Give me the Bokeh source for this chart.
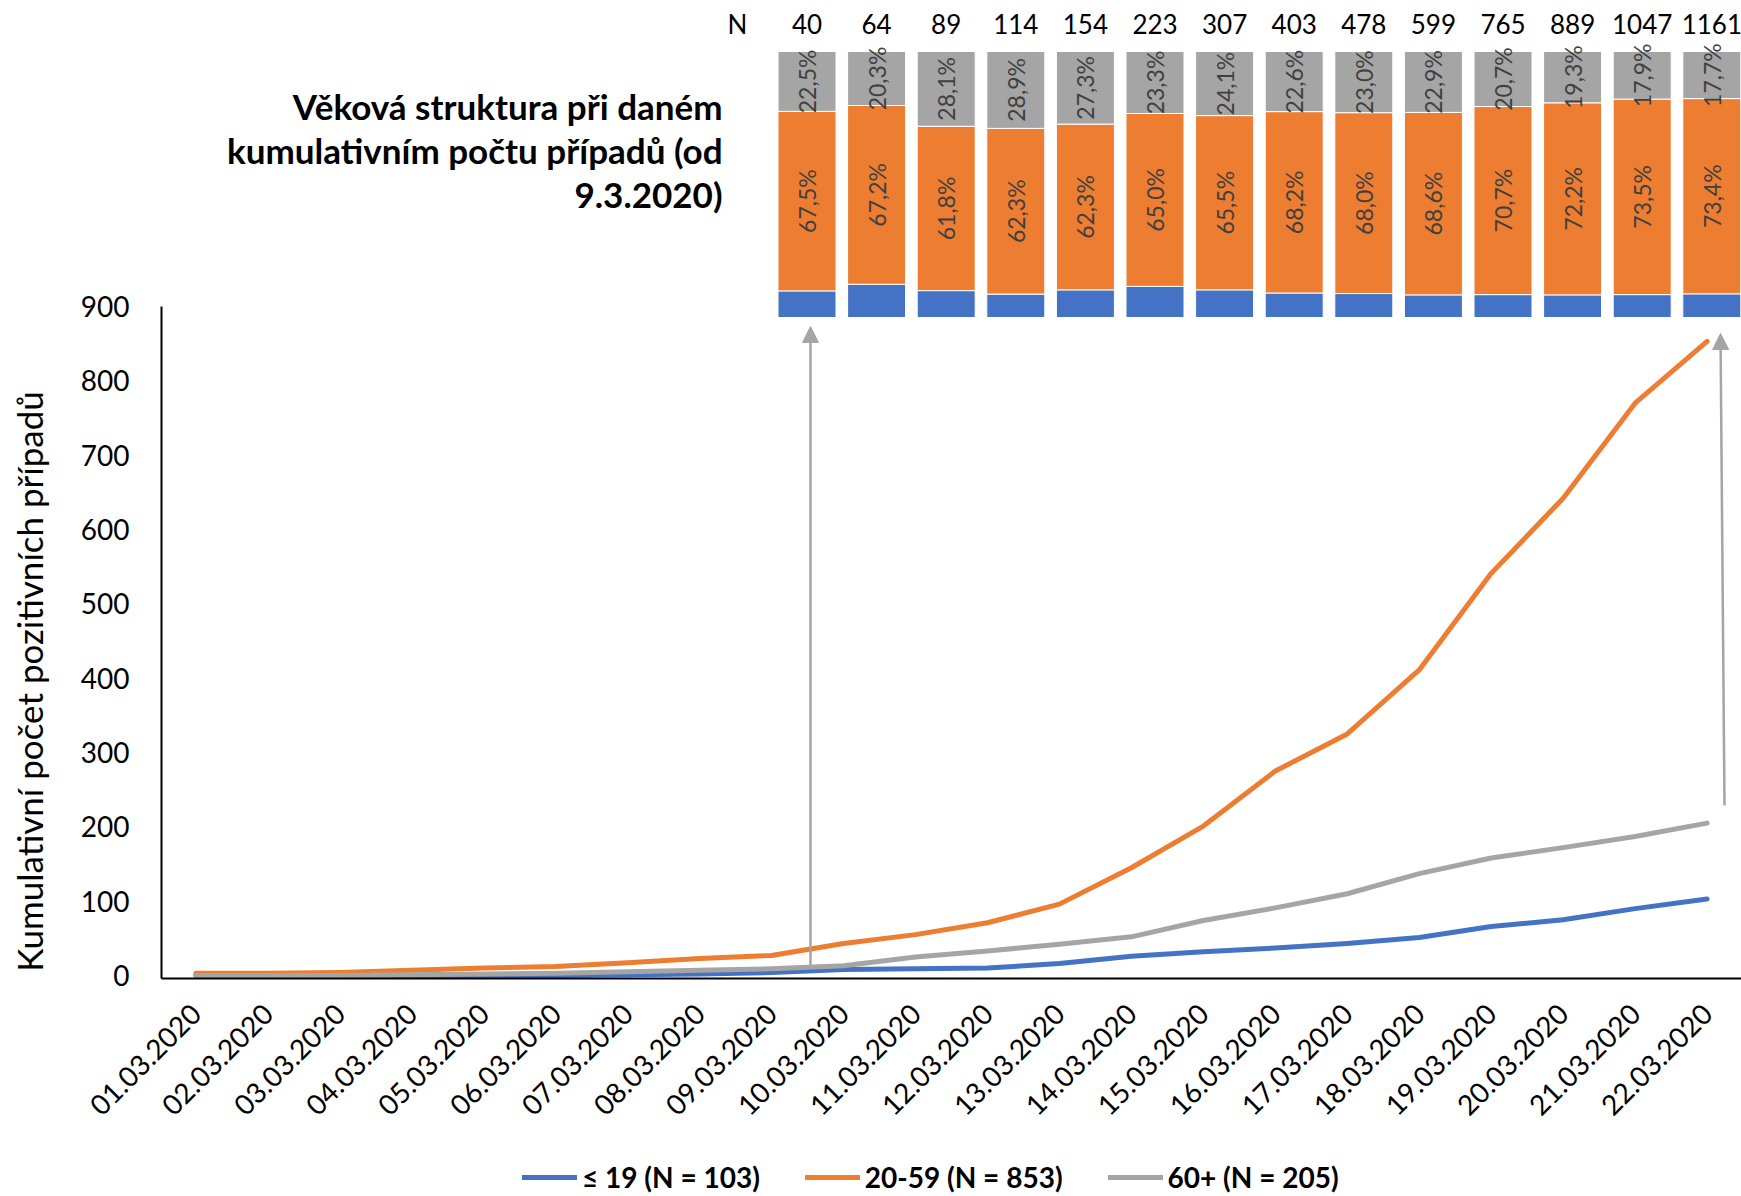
from math import pi
from bokeh.plotting import figure
from bokeh.layouts import column, row
from bokeh.models import (Range1d, FixedTicker, ColumnDataSource, Legend, LegendItem,
                          Label, Arrow, NormalHead)
from bokeh.core.properties import value
from bokeh.embed import file_html
from bokeh.resources import INLINE

# ---------------- data ----------------
dates = ["01.03.2020", "02.03.2020", "03.03.2020", "04.03.2020", "05.03.2020",
         "06.03.2020", "07.03.2020", "08.03.2020", "09.03.2020", "10.03.2020",
         "11.03.2020", "12.03.2020", "13.03.2020", "14.03.2020", "15.03.2020",
         "16.03.2020", "17.03.2020", "18.03.2020", "19.03.2020", "20.03.2020",
         "21.03.2020", "22.03.2020"]
cum_le19 = [0, 0, 0, 0, 0, 0, 1, 2, 4, 8, 9, 10, 16, 26, 32, 37, 43, 51, 66, 75, 90, 103]
cum_20_59 = [3, 3, 4, 7, 10, 12, 17, 23, 27, 43, 55, 71, 96, 145, 201, 275, 325, 411, 541, 642, 770, 853]
cum_60p = [0, 0, 0, 1, 2, 3, 5, 7, 9, 13, 25, 33, 42, 52, 74, 91, 110, 137, 158, 172, 187, 205]

bar_n = [40, 64, 89, 114, 154, 223, 307, 403, 478, 599, 765, 889, 1047, 1161]
bar_pct_le19 = [10.0, 12.5, 10.1, 8.8, 10.4, 11.7, 10.4, 9.2, 9.0, 8.5, 8.6, 8.5, 8.6, 8.9]
bar_pct_20_59 = [67.5, 67.2, 61.8, 62.3, 62.3, 65.0, 65.5, 68.2, 68.0, 68.6, 70.7, 72.2, 73.5, 73.4]
bar_pct_60p = [22.5, 20.3, 28.1, 28.9, 27.3, 23.3, 24.1, 22.6, 23.0, 22.9, 20.7, 19.3, 17.9, 17.7]

series_names = ["≤ 19", "20-59", "60+"]
colors = ["#4472C4", "#ED7D31", "#A5A5A5"]
y_ticks = [0, 100, 200, 300, 400, 500, 600, 700, 800, 900]
title_lines = ["Věková struktura při daném", "kumulativním počtu případů (od", "9.3.2020)"]
y_title = "Kumulativní počet pozitivních případů"

# ---------------- layout helpers (page pixels of the reference) ----------------
W, H = 1741, 1196
LW = 60          # width of the strip holding the y-axis title
LH = 60          # height of the strip holding the legend
MH = H - LH      # height of the main figure
FL, FR, FT, FB = 161, 1741, 0, 978   # plot frame in page pixels
X0, DX = 195.4, 71.96          # first category centre, category step
Y0, K = 975.0, 669.0 / 900.0   # y=0 pixel, pixels per unit
BX0, BDX = 806.5, 69.6         # first inset bar centre, bar step
BTOP, BBOT = 51.0, 317.0       # inset 100 % / 0 % pixels
PK = (BBOT - BTOP) / 100.0


def xi(px):
    return (px - X0) / DX


def yv(py):
    return (Y0 - py) / K


def bx(px):
    return (px - BX0) / BDX


def bp(py):
    return (BBOT - py) / PK


FONT = "Lato"

# ---------------- main figure ----------------
p = figure(width=W - LW, height=MH, output_backend="svg", toolbar_location=None,
           x_range=Range1d(xi(FL), xi(FR)), y_range=Range1d(yv(FB), yv(FT)),
           min_border_left=FL - LW, min_border_right=W - FR, min_border_top=FT,
           min_border_bottom=MH - FB)
p.extra_x_ranges = {"bx": Range1d(bx(FL), bx(FR))}
p.extra_y_ranges = {"pct": Range1d(bp(FB), bp(FT))}
p.outline_line_color = None
p.grid.visible = False
p.background_fill_color = "white"
p.border_fill_color = "white"

xa = p.xaxis[0]
xa.ticker = FixedTicker(ticks=list(range(len(dates))))
xa.major_label_overrides = {i: d for i, d in enumerate(dates)}
xa.major_label_orientation = pi / 4
xa.major_label_standoff = 24
xa.major_tick_line_color = None
xa.minor_tick_line_color = None
xa.axis_line_color = "black"
xa.axis_line_width = 2
xa.major_label_text_font = FONT
xa.major_label_text_font_size = "28px"
xa.major_label_text_color = "black"

ya = p.yaxis[0]
ya.ticker = FixedTicker(ticks=y_ticks)
ya.bounds = (yv(FB), y_ticks[-1])
ya.major_label_standoff = 26
ya.major_tick_line_color = None
ya.minor_tick_line_color = None
ya.axis_line_color = "black"
ya.axis_line_width = 2
ya.major_label_text_font = FONT
ya.major_label_text_font_size = "28px"
ya.major_label_text_color = "black"

xs = list(range(len(dates)))
series = [cum_le19, cum_20_59, cum_60p]
for vals, c in zip(series, colors):
    p.line(xs, vals, line_color=c, line_width=5, line_cap="round", line_join="round")

# inset stacked bars
idx = list(range(len(bar_n)))
o_mid = [b + o / 2 for b, o in zip(bar_pct_le19, bar_pct_20_59)]
g_mid = [b + o + g / 2 for b, o, g in zip(bar_pct_le19, bar_pct_20_59, bar_pct_60p)]
src = ColumnDataSource(dict(
    idx=idx, le19=bar_pct_le19, mid=bar_pct_20_59, old=bar_pct_60p,
    o_mid=o_mid, g_mid=g_mid,
    o_lab=[f"{v:.1f}%".replace(".", ",") for v in bar_pct_20_59],
    g_lab=[f"{v:.1f}%".replace(".", ",") for v in bar_pct_60p],
))
p.vbar_stack(["le19", "mid", "old"], x="idx", width=58 / BDX, color=colors,
             line_color="white", line_width=1, source=src,
             x_range_name="bx", y_range_name="pct")
for ycol, tcol in [("o_mid", "o_lab"), ("g_mid", "g_lab")]:
    p.text(x="idx", y=ycol, text=tcol, source=src, angle=pi / 2,
           text_align="center", text_baseline="middle",
           text_font=value(FONT), text_font_size="23px", text_color="#404040",
           x_range_name="bx", y_range_name="pct")

n_src = ColumnDataSource(dict(x=[-1] + idx, y=[bp(23)] * (len(idx) + 1),
                              t=["N"] + [str(n) for n in bar_n]))
p.text(x="x", y="y", text="t", source=n_src, text_align="center", text_baseline="middle",
       text_font=value(FONT), text_font_size="26px", text_color="black",
       x_range_name="bx", y_range_name="pct")

for line, by in zip(title_lines, [105.5, 149.5, 193.5]):
    p.add_layout(Label(x=xi(722), y=yv(by), text=line, text_align="right",
                       text_baseline="alphabetic", text_font=FONT,
                       text_font_style="bold", text_font_size="35px", text_color="black"))

for (x1, y1, x2, y2) in [(810, 968, 810, 326), (1724, 805, 1720, 333)]:
    p.add_layout(Arrow(x_start=xi(x1), y_start=yv(y1), x_end=xi(x2), y_end=yv(y2),
                       line_color="#A5A5A5", line_width=2.5,
                       end=NormalHead(size=16, fill_color="#A5A5A5", line_color="#A5A5A5")))

# ---------------- strip with the y-axis title (frame aligned with the main frame) ----
pl = figure(width=LW, height=MH, output_backend="svg", toolbar_location=None,
            x_range=Range1d(0, LW), y_range=Range1d(FB, FT), min_border=0,
            x_axis_location=None, y_axis_location=None)
pl.outline_line_color = None
pl.grid.visible = False
pl.add_layout(Label(x=28, y=681, text=y_title, angle=pi / 2, text_align="center",
                    text_baseline="alphabetic", text_font=FONT, text_font_size="35px",
                    text_color="black"))

# ---------------- strip with the legend ----------------
pg = figure(width=W, height=LH, output_backend="svg", toolbar_location=None,
            x_range=Range1d(1000, 1001), y_range=Range1d(0, 1), min_border=0,
            x_axis_location=None, y_axis_location=None)
pg.outline_line_color = None
pg.grid.visible = False
totals = [s[-1] for s in series]
items = []
for name, t, vals, c in zip(series_names, totals, series, colors):
    r = pg.line(xs, vals, line_color=c, line_width=5, line_cap="round")
    items.append(LegendItem(label=f"{name} (N = {t})", renderers=[r]))
legend = Legend(items=items, orientation="horizontal", location=(522, 2),
                glyph_width=55, glyph_height=20, label_standoff=5, spacing=45,
                padding=0, margin=0, border_line_alpha=0, background_fill_alpha=0,
                label_text_font=FONT, label_text_font_style="bold",
                label_text_font_size="28px", label_text_color="black")
pg.add_layout(legend)

layout = column(row(pl, p), pg)
open("out.html", "w").write(file_html(layout, INLINE))
